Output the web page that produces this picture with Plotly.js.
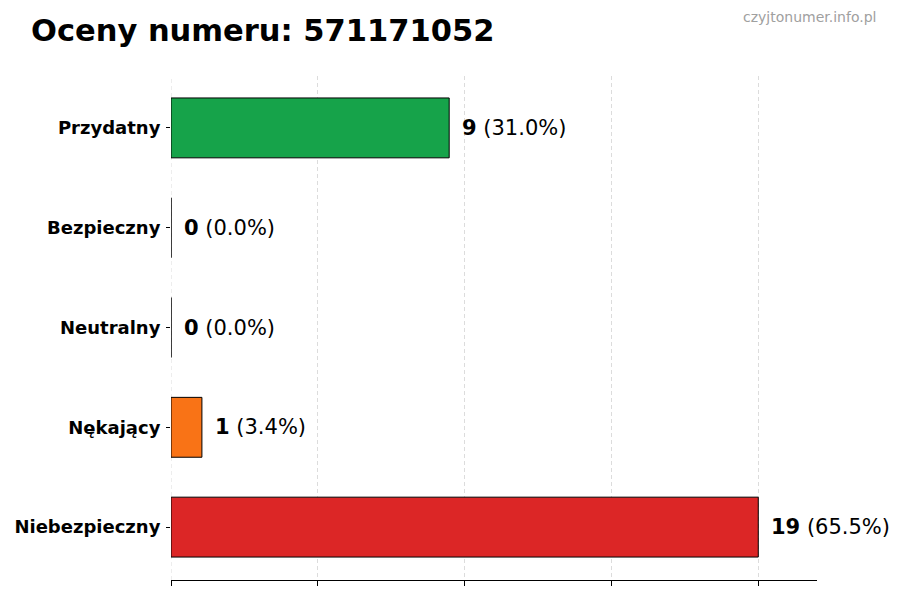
<!DOCTYPE html>
<html>
<head>
<meta charset="utf-8">
<script src="https://cdn.plot.ly/plotly-3.0.1.min.js"></script>
<style>
  html, body { margin: 0; padding: 0; background: #fff; }
  #chart { width: 900px; height: 600px; }
</style>
</head>
<body>
<div id="chart"></div>
<script>
// ratings, top to bottom
const categories = ['Przydatny', 'Bezpieczny', 'Neutralny', 'Nękający', 'Niebezpieczny'];
const counts = [9, 0, 0, 1, 19];
const colors = ['#16a34a', '#16a34a', '#9ca3af', '#f97316', '#dc2626'];

const total = counts.reduce((a, b) => a + b, 0);
const maxCount = Math.max(...counts);
const font = 'DejaVu Sans, sans-serif';

const trace = {
  type: 'bar',
  orientation: 'h',
  y: categories,
  x: counts,
  width: 0.6,
  marker: {color: colors, line: {color: '#000', width: 1}},
  hoverinfo: 'none'
};

const labels = categories.map((c, i) => ({
  x: counts[i],
  y: c,
  xref: 'x',
  yref: 'y',
  xanchor: 'left',
  xshift: 11,
  showarrow: false,
  text: '<b>' + counts[i] + '</b> (' + (counts[i] / total * 100).toFixed(1) + '%)',
  font: {family: font, size: 21, color: '#000'}
}));

labels.push({
  xref: 'paper', yref: 'paper',
  x: 1.094, y: 1.117,
  xanchor: 'right', yanchor: 'middle',
  showarrow: false,
  text: 'czyjtonumer.info.pl',
  font: {family: font, size: 14, color: '#a0a0a0'}
});

const layout = {
  width: 900,
  height: 600,
  margin: {l: 171, r: 83, t: 76, b: 20},
  paper_bgcolor: '#fff',
  plot_bgcolor: '#fff',
  showlegend: false,
  title: {
    text: '<b>Oceny numeru: 571171052</b>',
    x: 31 / 900, xref: 'container', xanchor: 'left',
    y: 1 - 30 / 600, yref: 'container', yanchor: 'middle',
    font: {family: font, size: 30.5, color: '#000'}
  },
  xaxis: {
    range: [0, maxCount * 1.1],
    tickvals: [0, 1, 2, 3, 4].map(k => maxCount * k / 4),
    ticktext: ['', '', '', '', ''],
    ticks: 'outside', ticklen: 5, tickcolor: '#000',
    showline: true, linecolor: '#000', linewidth: 1,
    showgrid: true, gridcolor: '#dcdcdc', griddash: '4px,3px', gridwidth: 1,
    zeroline: false, fixedrange: true
  },
  yaxis: {
    type: 'category',
    range: [4.53, -0.52],
    ticks: 'outside', ticklen: 4, tickcolor: '#000',
    showline: false, showgrid: false, zeroline: false,
    tickfont: {family: font, size: 18, color: '#000', weight: 'bold'},
    ticklabelstandoff: 2
  },
  // gridline at zero, which plotly leaves out at the range edge
  shapes: [{
    type: 'line', layer: 'below',
    xref: 'x', yref: 'paper', x0: 0, x1: 0, y0: 0, y1: 1,
    line: {color: '#dcdcdc', width: 1, dash: '4px,3px'}
  }],
  annotations: labels,
  font: {family: font}
};

Plotly.newPlot('chart', [trace], layout, {displayModeBar: false, staticPlot: true});
</script>
</body>
</html>
